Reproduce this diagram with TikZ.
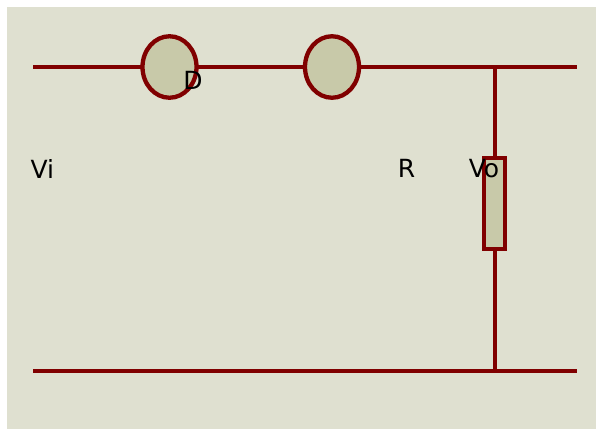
\documentclass[tikz,border=0pt]{standalone}
\usepackage{fontspec}
\setmainfont{DejaVu Sans}
\usetikzlibrary{shapes.geometric}
\definecolor{bg}{HTML}{DFE0D0}
\definecolor{wire}{HTML}{800000}
\definecolor{part}{HTML}{C8C9A9}
\tikzset{x=1pt,y=-1pt,
 wireline/.style={draw=wire,line width=4.3pt},
 diode/.style={ellipse,draw=wire,line width=4.3pt,fill=part,minimum width=54pt,minimum height=61.5pt,inner sep=0pt},
 resistor/.style={rectangle,draw=wire,line width=4.3pt,fill=part,minimum width=21pt,minimum height=91.5pt,inner sep=0pt},
 lbl/.style={font=\fontsize{25}{27}\selectfont,text=black,inner sep=0pt}}
\begin{document}
\begin{tikzpicture}
\useasboundingbox (0,0) rectangle (596,429);
\fill[white] (0,0) rectangle (596,429);
\fill[bg] (7,6.5) rectangle (596,429);
\coordinate (tl) at (33,66.8);
\coordinate (tr) at (577,66.8);
\coordinate (bl) at (33,370.8);
\coordinate (br) at (577,370.8);
\coordinate (jt) at (494.8,66.8);
\coordinate (jb) at (494.8,370.8);
\draw[wireline] (tl) -- (tr);
\draw[wireline] (bl) -- (br);
\draw[wireline] (jt) -- (jb);
\node[diode] (d1) at (169.5,67) {};
\node[diode] (d2) at (332,67) {};
\node[resistor] (r) at (494.8,203.5) {};
\node[lbl] (vi) at (42.3,168.5) {Vi};
\node[lbl] (d) at (193,80.5) {D};
\node[lbl] (rl) at (406.5,168.5) {R};
\node[lbl] (vo) at (484,168.5) {Vo};
\end{tikzpicture}
\end{document}
